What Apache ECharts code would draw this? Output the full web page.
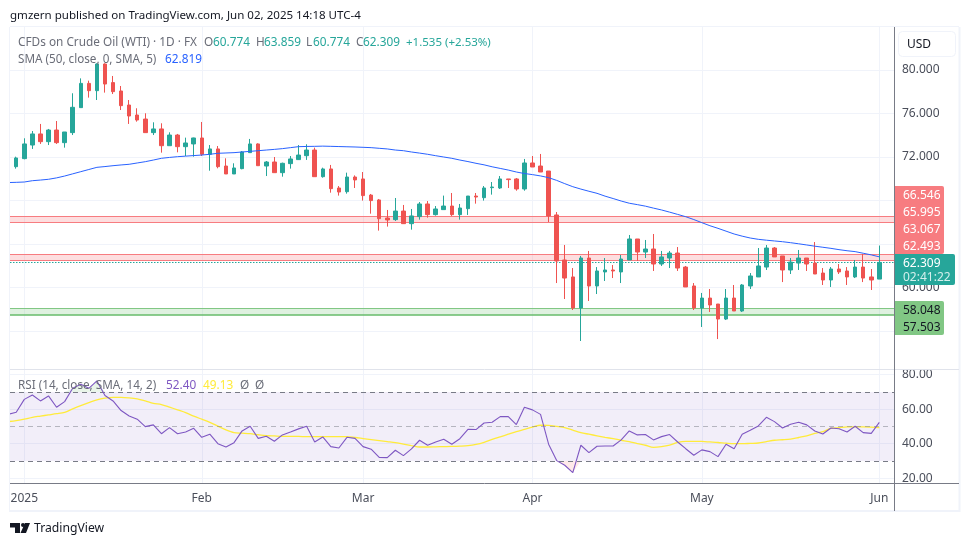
<!DOCTYPE html>
<html>
<head>
<meta charset="utf-8">
<style>html,body{margin:0;padding:0;background:#fff}#main{width:970px;height:546px}</style>
<script src="https://cdn.jsdelivr.net/npm/echarts@6/dist/echarts.min.js"></script>
</head>
<body>
<div id="main"></div>
<script>
// daily bars, Dec 30 to Jun 2 (weekdays, Good Friday skipped)
var opens = [70.19,71.11,
  71.85,73.10,74.12,73.41,74.48,73.32,74.24,76.54,78.77,78.10,80.55,78.84,78.07,76.78,75.86,75.49,74.24,74.58,73.04,74.02,72.95,73.20,
  73.75,72.25,72.74,71.17,70.44,70.93,72.40,73.20,71.17,71.54,70.56,71.39,71.76,72.12,72.64,70.19,70.90,69.15,68.81,70.16,
  69.98,68.50,68.05,66.39,66.24,67.03,65.87,66.52,67.68,66.70,67.16,67.49,66.70,67.25,68.41,68.26,69.18,69.15,69.98,69.98,69.06,
  71.45,71.17,70.71,66.67,62.53,60.97,58.12,62.71,60.14,61.43,61.61,61.43,62.53,64.46,63.26,63.54,62.16,62.71,63.17,61.88,60.14,
  58.12,59.03,58.48,57.10,59.03,57.84,60.14,60.97,61.88,63.63,62.90,61.61,62.25,62.71,62.25,61.33,60.69,61.70,61.52,60.97,61.88,60.97,
  60.774];
var closes = [71.11,71.91,
  73.20,74.12,73.41,74.48,73.32,74.30,76.57,78.77,78.10,80.55,78.71,78.01,76.72,75.77,75.40,74.24,74.58,73.04,74.02,72.95,73.29,73.75,
  72.25,72.74,71.11,70.44,70.99,72.46,73.20,71.20,71.54,70.56,71.42,71.82,72.18,72.64,70.19,70.90,69.09,68.78,70.16,69.89,
  68.45,67.99,66.33,66.21,67.03,65.87,66.58,67.68,66.70,67.22,67.49,66.70,67.31,68.41,68.32,69.15,69.24,69.98,69.92,69.06,71.45,
  71.08,70.62,66.58,62.44,60.87,58.12,62.71,60.14,61.52,61.61,61.52,62.62,64.46,63.26,63.54,62.16,62.81,63.17,61.79,60.05,58.12,
  59.03,58.39,57.10,59.03,57.84,60.23,61.06,61.98,63.63,62.81,61.61,62.34,62.71,62.16,61.24,60.69,61.70,61.43,60.97,61.88,60.87,60.69,
  62.309];
var highs = [71.20,72.03,
  73.72,74.39,75.04,74.58,75.31,74.30,77.86,79.23,79.02,80.61,80.61,79.45,78.53,77.24,76.48,76.02,75.19,75.10,74.27,74.12,73.78,73.78,
  75.22,73.10,73.01,71.88,71.42,72.55,73.66,73.26,71.63,72.00,71.48,72.09,73.10,73.17,72.86,71.02,71.27,69.33,70.56,70.31,
  70.62,68.60,68.14,67.13,68.23,67.59,67.22,67.86,67.95,67.49,68.45,68.69,67.68,68.41,68.69,69.33,69.70,70.25,69.98,70.07,71.82,
  72.09,72.28,70.71,66.94,63.91,61.79,62.90,63.36,61.88,62.71,62.07,62.99,64.83,64.46,64.37,64.92,63.36,63.36,63.72,61.98,60.41,
  59.50,59.86,58.48,59.86,60.23,60.32,61.33,63.63,63.91,63.72,62.90,62.71,63.45,62.71,64.18,61.79,61.88,62.16,61.88,62.53,63.08,61.70,
  63.859];
var lows = [70.10,70.93,
  71.79,72.74,73.20,73.10,73.20,72.86,74.02,76.54,77.46,77.24,77.92,77.79,76.32,75.04,75.25,74.24,74.02,72.40,73.04,72.43,72.09,72.03,
  72.09,70.74,70.96,70.44,70.44,70.87,72.40,71.20,70.25,70.56,70.19,70.93,71.73,71.73,70.19,70.10,68.72,68.45,68.63,69.15,
  67.99,66.79,65.23,65.60,66.12,65.84,65.32,66.24,66.42,66.61,67.16,66.58,66.24,66.67,67.71,67.99,68.54,69.06,69.15,68.90,68.90,
  71.08,70.62,66.02,60.41,58.94,57.93,55.08,58.76,59.40,60.60,60.87,60.41,62.53,62.44,62.71,61.52,61.98,61.79,61.52,60.05,57.93,
  56.37,57.75,55.26,57.01,57.84,57.75,59.86,60.97,61.61,62.81,60.50,61.24,61.61,61.52,61.24,60.23,60.05,61.24,60.23,60.87,60.50,59.77,
  60.774];
var sma = [69.65,69.67,
  69.70,69.82,69.88,69.95,70.08,70.25,70.45,70.65,70.85,71.05,71.12,71.20,71.27,71.33,71.45,71.57,71.72,71.88,71.96,72.03,72.08,72.13,
  72.18,72.25,72.34,72.37,72.40,72.46,72.52,72.58,72.64,72.70,72.77,72.86,72.95,72.97,72.98,73.00,72.98,72.96,72.94,72.92,
  72.89,72.86,72.80,72.74,72.64,72.58,72.46,72.36,72.25,72.12,72.00,71.88,71.72,71.58,71.42,71.28,71.10,70.95,70.80,70.62,70.48,
  70.38,70.26,70.10,69.85,69.55,69.27,69.05,68.85,68.66,68.40,68.18,67.95,67.75,67.62,67.48,67.30,67.13,66.93,66.72,66.51,66.25,
  65.96,65.68,65.44,65.18,64.92,64.72,64.55,64.43,64.35,64.28,64.21,64.12,64.02,63.91,63.80,63.70,63.60,63.48,63.38,63.30,63.15,63.00,
  62.82];
var rsi = [57.0,58.2,
  65.7,68.2,64.8,67.7,61.1,64.4,72.1,74.4,72.1,76.4,67.9,64.8,59.2,56.1,54.2,49.9,50.9,45.8,49.3,45.8,46.8,48.9,
  43.7,45.5,40.0,38.1,40.6,47.4,50.1,43.1,44.3,41.4,45.1,46.8,48.6,50.1,41.0,43.9,38.3,37.5,43.7,43.1,
  38.3,36.8,32.1,31.9,36.2,33.1,37.0,42.0,39.1,41.0,42.6,39.7,42.9,48.3,48.2,52.0,52.4,55.7,55.7,51.1,61.1,
  59.6,57.0,39.7,30.2,27.5,23.2,39.1,34.8,38.5,38.7,38.7,42.2,47.4,45.1,45.3,42.2,44.1,45.3,41.0,37.1,33.3,
  36.4,35.4,32.5,39.7,37.1,45.5,47.8,50.3,55.3,52.8,49.1,51.3,52.4,50.9,47.4,45.6,49.1,48.7,46.8,50.1,46.4,46.0,
  52.4];
var rsiMa = [52.8,53.4,
  54.2,55.3,56.0,56.7,57.4,58.2,60.2,62.1,63.8,65.4,66.4,66.9,66.9,66.6,66.0,64.8,63.4,62.7,61.2,59.6,58.0,56.0,
  54.2,52.4,50.2,48.0,46.4,46.1,45.8,45.2,44.7,44.5,44.3,44.2,44.2,44.1,44.1,44.1,44.1,44.1,44.1,43.6,
  43.0,42.4,41.8,41.2,40.6,39.8,38.9,38.1,38.1,38.2,38.3,38.4,38.6,38.9,39.6,40.8,42.5,44.0,45.5,47.0,48.3,
  49.6,50.7,50.6,50.0,49.3,47.9,46.4,45.5,44.6,43.7,42.9,42.0,41.2,40.0,39.1,37.9,38.3,39.2,40.8,41.4,41.4,
  41.3,41.0,40.7,40.3,40.0,40.0,40.2,40.4,41.2,42.0,42.3,42.7,43.6,44.6,46.0,47.0,48.9,49.3,49.7,49.8,49.8,49.6,
  49.3];

var monthTicks = [2,24,44,65,86,108];
var monthLabels = ['2025','Feb','Mar','Apr','May','Jun'];
var resistanceHigh = [66.546,65.995];
var resistanceLow = [63.067,62.493];
var supportZone = [58.048,57.503];
var lastPrice = 62.309;

var UP='#26A69A', DOWN='#EF5350', GRID='#F0F3FA', AXIS='#787B86', TXT='#4A4E5A', PINK='#F77C80', GREEN='#81C784', LEG='#6A6D78';
var XMIN=0.227, XMAX=109.82, FONT='"Noto Sans", sans-serif';

var candles = opens.map(function(o,i){ return [i,o,closes[i],lows[i],highs[i]]; });
function pairs(arr){ return arr.map(function(v,i){ return [i,v]; }); }

function zoneArea(z,color){ return [{yAxis:z[0],itemStyle:{color:color}},{yAxis:z[1]}]; }
function hline(v,color,type,width){ return {yAxis:v,lineStyle:{color:color,type:type||'solid',width:width||1}}; }

// graphic helpers
function txt(x,y,s,color,size,align){
  return {type:'text',x:x,y:y+0.8,z:100,silent:true,style:{text:s,fill:color,font:(size||12)+'px '+FONT,textVerticalAlign:'middle',textAlign:align||'left'}};
}
function box(x,y,w,h,color,r,stroke,z){
  return {type:'rect',z:z||90,silent:true,shape:{x:x,y:y,width:w,height:h,r:r||0},style:{fill:color,stroke:stroke||null}};
}
function line(x1,y1,x2,y2,color,w){
  return {type:'line',z:60,silent:true,shape:{x1:x1,y1:y1,x2:x2,y2:y2},style:{stroke:color,lineWidth:w||1}};
}

var graphics = [
  box(0,27,10,342,'#fff',0,null,50), // trims the candle cut off by the left edge
  line(9.5,27,9.5,511,GRID), line(10,26.5,959,26.5,GRID),
  line(959.5,27,959.5,512,GRID,2), line(9,511,960,511,GRID,2),
  line(10,369.5,959,369.5,'#E0E3EB'), line(10,483.5,959,483.5,AXIS),
  line(894.5,27,894.5,511,AXIS),
  txt(10,15,'gmzern published on TradingView.com, Jun 02, 2025 14:18 UTC-4','#131722',11.55),
  txt(18,42,'CFDs on Crude Oil (WTI) · 1D · FX',LEG,11.8),
  txt(204,42,'O',LEG,11.8), txt(213,42,'60.774',UP,11.8),
  txt(256,42,'H',LEG,11.8), txt(264,42,'63.859',UP,11.8),
  txt(306,42,'L',LEG,11.8), txt(313,42,'60.774',UP,11.8),
  txt(356,42,'C',LEG,11.8), txt(363,42,'62.309',UP,11.8),
  txt(406,42,'+1.535 (+2.53%)',UP,11.5),
  txt(18,59,'SMA (50, close, 0, SMA, 5)',LEG,11.7), txt(165,59,'62.819','#2962FF',11.8),
  txt(18,385,'RSI (14, close, SMA, 14, 2)',LEG,11.7),
  txt(166,385,'52.40','#7E57C2',11.8), txt(203,385,'49.13','#FFEB3B',11.8),
  txt(240,385,'Ø',LEG,11.8), txt(255,385,'Ø',LEG,11.8),
  box(898.5,31.5,57,25,'#fff',4,GRID), txt(907,44,'USD','#131722',12),
  box(895,186,49,68,PINK,[0,2,2,0]),
  txt(903,195,'66.546','#fff',12), txt(903,212,'65.995','#fff',12),
  txt(903,229,'63.067','#fff',12), txt(903,246,'62.493','#fff',12),
  box(895,301,49,34,GREEN,[0,2,2,0]),
  txt(903,310,'58.048','#131722',12), txt(903,327,'57.503','#131722',12),
  box(895,254,60,31,UP,[0,2,2,0]),
  txt(903,263,'62.309','#fff',12), txt(903,277,'02:41:22','#D4EFEC',12),
  {type:'polygon',z:100,silent:true,shape:{points:[[10,523],[20,523],[20,533],[15,533],[15,527.5],[10,527.5]]},style:{fill:'#131722'}},
  {type:'circle',z:100,silent:true,shape:{cx:23,cy:525,r:2},style:{fill:'#131722'}},
  {type:'polygon',z:100,silent:true,shape:{points:[[25,523],[30,523],[26,533],[20.5,533]]},style:{fill:'#131722'}},
  txt(34,528,'TradingView','#131722',12.2)
];

var myChart = echarts.init(document.getElementById('main'));
var option = {
  animation:false,
  backgroundColor:'#fff',
  textStyle:{fontFamily:FONT},
  grid:[
    {left:10,width:884,top:26.5,height:348},
    {left:10,width:884,top:374.7,height:103.5},
    {left:10,width:884,top:27,height:456}
  ],
  xAxis:[
    {type:'value',gridIndex:0,min:XMIN,max:XMAX,show:false},
    {type:'value',gridIndex:1,min:XMIN,max:XMAX,show:false},
    {type:'value',gridIndex:2,min:XMIN,max:XMAX,
      axisLine:{show:false},
      axisTick:{show:false,customValues:monthTicks},
      splitLine:{show:true,lineStyle:{color:GRID}},
      axisLabel:{customValues:monthTicks,color:TXT,fontSize:12,margin:10,
        formatter:function(v){ return monthLabels[monthTicks.indexOf(v)]; }}
    }
  ],
  yAxis:[
    {type:'value',gridIndex:0,position:'right',min:52,max:84,interval:4,
      axisLine:{show:false},axisTick:{show:false},
      splitLine:{lineStyle:{color:GRID}},
      axisLabel:{color:TXT,fontSize:12,margin:8,padding:[4,0,0,0],showMinLabel:false,showMaxLabel:false,
        formatter:function(v){ return v.toFixed(3); }}
    },
    {type:'value',gridIndex:1,position:'right',min:20,max:80,interval:20,
      axisLine:{show:false},axisTick:{show:false},
      splitLine:{lineStyle:{color:GRID}},
      axisLabel:{color:TXT,fontSize:12,margin:8,padding:[2,0,0,0],formatter:function(v){ return v.toFixed(2); }}
    },
    {type:'value',gridIndex:2,min:0,max:1,show:false}
  ],
  series:[
    {name:'WTI',type:'candlestick',xAxisIndex:0,yAxisIndex:0,barWidth:4,z:5,
      encode:{x:0,y:[1,2,3,4]},data:candles,
      itemStyle:{color:UP,color0:DOWN,borderColor:UP,borderColor0:DOWN,borderWidth:1},
      markArea:{silent:true,itemStyle:{opacity:1},data:[
        zoneArea(resistanceHigh,'rgba(247,124,128,0.25)'),
        zoneArea(resistanceLow,'rgba(247,124,128,0.25)'),
        zoneArea(supportZone,'rgba(129,199,132,0.25)')
      ]},
      markLine:{silent:true,symbol:'none',label:{show:false},data:[
        hline(resistanceHigh[0],PINK), hline(resistanceHigh[1],PINK),
        hline(resistanceLow[0],PINK), hline(resistanceLow[1],PINK),
        hline(supportZone[0],GREEN), hline(supportZone[1],'#66BB6A',null,1.5),
        hline(lastPrice,UP,[1.5,1.5],1.2)
      ]}
    },
    {name:'SMA',type:'line',xAxisIndex:0,yAxisIndex:0,z:6,showSymbol:false,
      data:pairs(sma),lineStyle:{color:'#2962FF',width:1}},
    {name:'RSI over',type:'line',xAxisIndex:1,yAxisIndex:1,z:3,showSymbol:false,
      data:pairs(rsi.map(function(v){ return Math.max(v,70); })),lineStyle:{width:0},
      areaStyle:{origin:70,color:'rgba(76,175,80,0.18)'}},
    {name:'RSI under',type:'line',xAxisIndex:1,yAxisIndex:1,z:3,showSymbol:false,
      data:pairs(rsi.map(function(v){ return Math.min(v,30); })),lineStyle:{width:0},
      areaStyle:{origin:30,color:'rgba(255,82,82,0.18)'}},
    {name:'RSI',type:'line',xAxisIndex:1,yAxisIndex:1,z:5,showSymbol:false,
      data:pairs(rsi),lineStyle:{color:'#7E57C2',width:1.1},
      markArea:{silent:true,data:[[{yAxis:70,itemStyle:{color:'rgba(126,87,194,0.1)'}},{yAxis:30}]]},
      markLine:{silent:true,symbol:'none',label:{show:false},data:[
        hline(70,AXIS,[5,4]), hline(30,AXIS,[5,4]), hline(50,'rgba(120,123,134,0.5)',[5,4])
      ]}
    },
    {name:'RSI MA',type:'line',xAxisIndex:1,yAxisIndex:1,z:4,showSymbol:false,smooth:0.3,
      data:pairs(rsiMa),lineStyle:{color:'#FFEB3B',width:1.3}}
  ],
  graphic:graphics
};
myChart.setOption(option);
</script>
</body>
</html>
